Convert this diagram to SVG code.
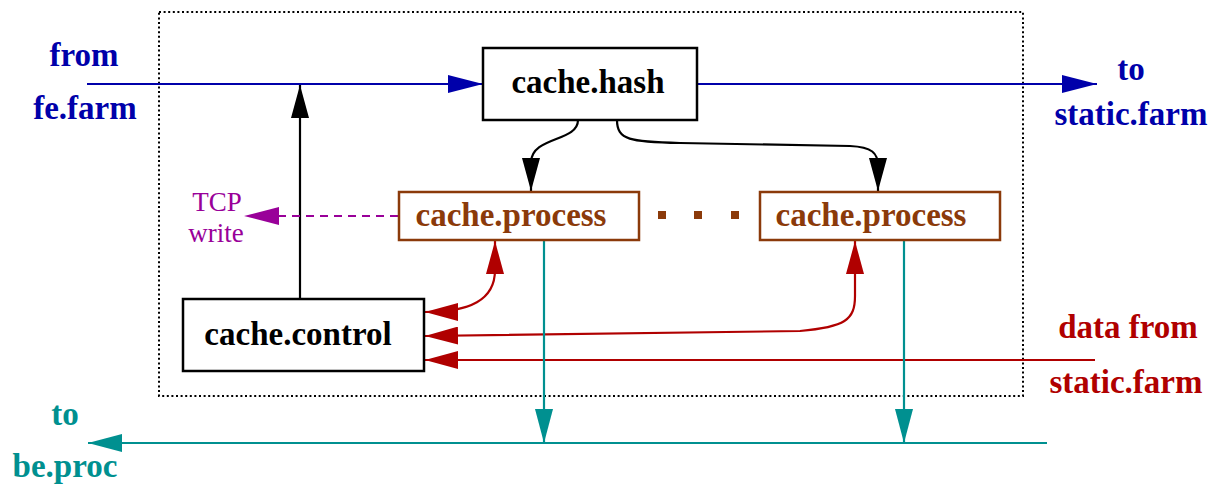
<svg xmlns="http://www.w3.org/2000/svg" width="1217" height="485" viewBox="0 0 1217 485">
  <style>
    .lbl { font-family: "Liberation Serif", "Times New Roman", serif; font-weight: bold; font-size: 33px; text-anchor: middle; }
    .box { fill: #ffffff; stroke: #000000; stroke-width: 2.5; }
    .pbox { fill: #ffffff; stroke: #8b3a0a; stroke-width: 2.5; }
    .blue { fill: #0000aa; }
    .brown { fill: #8b3a0a; }
    .red { fill: #b00000; }
    .teal { fill: #009090; }
    .mag { font-family: "Liberation Serif", "Times New Roman", serif; font-size: 27px; fill: #990099; text-anchor: middle; }
    .c { fill: none; stroke-width: 2.2; }
  </style>
  <defs>
    <marker id="hBlack" markerUnits="userSpaceOnUse" markerWidth="34" markerHeight="18" refX="33" refY="9" orient="auto">
      <path d="M0,0 L33,9 L0,18 z" fill="#000000"/>
    </marker>
    <marker id="hBlue" markerUnits="userSpaceOnUse" markerWidth="36" markerHeight="18" refX="35" refY="9" orient="auto">
      <path d="M0,0 L35,9 L0,18 z" fill="#0000aa"/>
    </marker>
    <marker id="hRed" markerUnits="userSpaceOnUse" markerWidth="34" markerHeight="18" refX="33" refY="9" orient="auto-start-reverse">
      <path d="M0,0 L33,9 L0,18 z" fill="#b00000"/>
    </marker>
    <marker id="hTeal" markerUnits="userSpaceOnUse" markerWidth="35" markerHeight="18" refX="34" refY="9" orient="auto">
      <path d="M0,0 L34,9 L0,18 z" fill="#009090"/>
    </marker>
    <marker id="hMag" markerUnits="userSpaceOnUse" markerWidth="36" markerHeight="18" refX="35" refY="9" orient="auto">
      <path d="M0,0 L35,9 L0,18 z" fill="#990099"/>
    </marker>
  </defs>

  <rect width="1217" height="485" fill="#ffffff"/>

  <!-- system boundary -->
  <rect id="boundary" x="159" y="12" width="864" height="384" fill="none" stroke="#000000" stroke-width="2" stroke-dasharray="2,2.6"/>

  <!-- connectors -->
  <g id="connectors">
    <path class="c" stroke="#0000aa" d="M87,84 L483,84" marker-end="url(#hBlue)"/>
    <path class="c" stroke="#0000aa" d="M697,84 L1097,84" marker-end="url(#hBlue)"/>
    <path class="c" stroke="#000000" d="M300,299 L300,85" marker-end="url(#hBlack)"/>
    <path class="c" stroke="#000000" d="M578,120 C578,142 532,136 531,162 L531,191" marker-end="url(#hBlack)"/>
    <path class="c" stroke="#000000" d="M617,120 C617,140 630,142 680,143 L850,146 C872,147 878,153 878,166 L878,191" marker-end="url(#hBlack)"/>
    <path class="c" stroke="#990099" stroke-dasharray="8,6" d="M398,216 L244,216" marker-end="url(#hMag)"/>
    <path class="c" stroke="#b00000" d="M495,241 L495,270 C495,300 470,312 425,312" marker-start="url(#hRed)" marker-end="url(#hRed)"/>
    <path class="c" stroke="#b00000" d="M855,241 L855,296 C855,320 845,327 800,331 L425,336" marker-start="url(#hRed)" marker-end="url(#hRed)"/>
    <path class="c" stroke="#b00000" d="M1095,360 L425,360" marker-end="url(#hRed)"/>
    <path class="c" stroke="#009090" d="M544,241 L544,443" marker-end="url(#hTeal)"/>
    <path class="c" stroke="#009090" d="M904,241 L904,443" marker-end="url(#hTeal)"/>
    <path class="c" stroke="#009090" d="M1047,443 L88,443" marker-end="url(#hTeal)"/>
  </g>

  <!-- nodes -->
  <g id="cache-hash">
    <rect class="box" x="483" y="48" width="214" height="72"/>
    <text class="lbl" x="588" y="93" fill="#000000">cache.hash</text>
  </g>
  <g id="cache-process-1">
    <rect class="pbox" x="399" y="192" width="240" height="48"/>
    <text class="lbl brown" x="511" y="226">cache.process</text>
  </g>
  <g id="ellipsis">
    <rect class="brown" x="658" y="211" width="8" height="8"/>
    <rect class="brown" x="694" y="211" width="8" height="8"/>
    <rect class="brown" x="731" y="211" width="8" height="8"/>
  </g>
  <g id="cache-process-n">
    <rect class="pbox" x="760" y="192" width="240" height="48"/>
    <text class="lbl brown" x="871" y="226">cache.process</text>
  </g>
  <g id="cache-control">
    <rect class="box" x="183" y="299" width="241" height="72"/>
    <text class="lbl" x="298" y="345" fill="#000000">cache.control</text>
  </g>

  <!-- external endpoints -->
  <g id="from-fe-farm">
    <text class="lbl blue" x="84" y="66">from</text>
    <text class="lbl blue" x="85" y="119">fe.farm</text>
  </g>
  <g id="to-static-farm">
    <text class="lbl blue" x="1131" y="80">to</text>
    <text class="lbl blue" x="1131" y="125">static.farm</text>
  </g>
  <g id="tcp-write">
    <text class="mag" x="217" y="211">TCP</text>
    <text class="mag" x="216" y="242">write</text>
  </g>
  <g id="data-from-static-farm">
    <text class="lbl red" x="1128" y="338">data from</text>
    <text class="lbl red" x="1126" y="393">static.farm</text>
  </g>
  <g id="to-be-proc">
    <text class="lbl teal" x="65" y="425">to</text>
    <text class="lbl teal" x="65" y="477">be.proc</text>
  </g>
</svg>
